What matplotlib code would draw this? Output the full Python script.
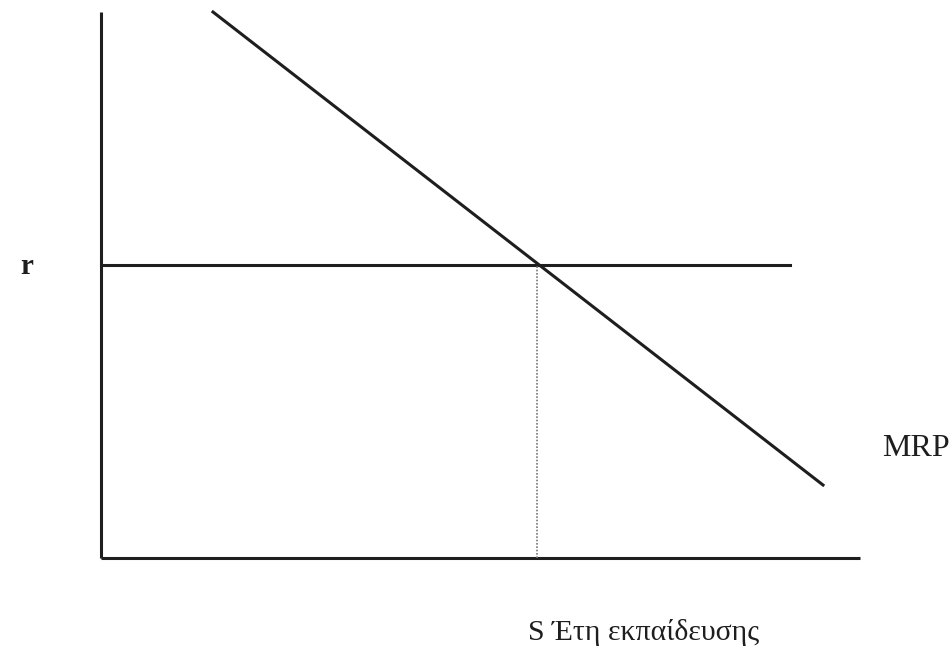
import matplotlib.pyplot as plt

# data in axis units (origin at the corner of the axes)
y_axis_top = 5.46
x_axis_end = 7.59
r_level = 2.93
r_line_end = 6.89
mrp_x = [1.12, 7.22]
mrp_y = [5.46, 0.73]
s_star = 4.36

labels = {"r": "r", "mrp": "MRP", "s": "S Έτη εκπαίδευσης"}

plt.rcParams['font.family'] = ['Liberation Serif', 'DejaVu Serif']

fig = plt.figure(figsize=(9.52, 6.52), dpi=100)
ax = fig.add_axes([0, 0, 1, 1])
ax.set_xlim(-1.01, 8.51)
ax.set_ylim(-0.94, 5.58)
ax.axis('off')

col = '#1e1e1e'
lw = 2.2

# axes
ax.plot([0, 0], [0, y_axis_top], color=col, lw=lw, solid_capstyle='butt')
ax.plot([0, x_axis_end], [0, 0], color=col, lw=lw, solid_capstyle='butt')

# r line and MRP curve
ax.plot([0, r_line_end], [r_level, r_level], color=col, lw=lw)
ax.plot(mrp_x, mrp_y, color=col, lw=lw)

# dotted drop line at S*
ax.plot([s_star, s_star], [0, r_level], color='#777777', lw=1.2, linestyle=(0, (1, 1)))

ax.text(-0.74, 2.91, labels["r"], fontsize=21, color=col, ha='center', va='center',
        fontweight='bold')
ax.text(7.81, 1.10, labels["mrp"], fontsize=23, color=col, ha='left', va='center')
ax.text(4.27, -0.74, labels["s"], fontsize=21.5, color=col, ha='left', va='center')

fig.savefig('out.png', dpi=100)
